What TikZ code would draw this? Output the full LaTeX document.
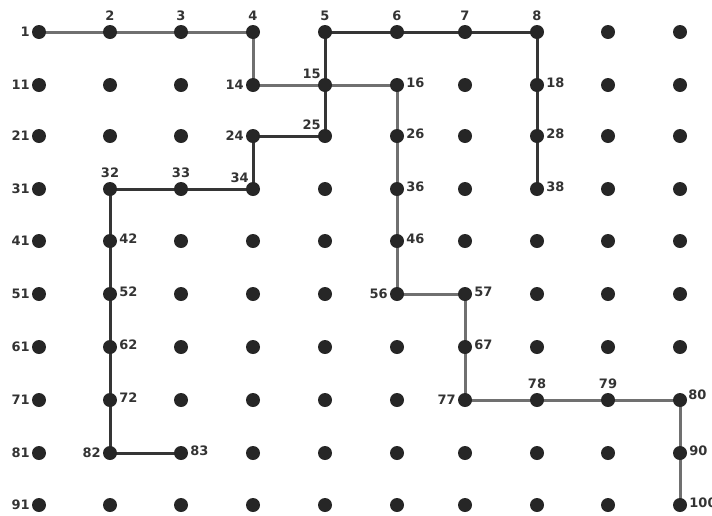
\documentclass[tikz,border=0pt]{standalone}
\usepackage{fontspec}
\setmainfont{DejaVu Sans}
\usetikzlibrary{backgrounds}
\definecolor{dotc}{HTML}{262626}
\definecolor{labc}{HTML}{333333}
\definecolor{grayc}{HTML}{707070}
\definecolor{darkc}{HTML}{353535}
\begin{document}
\begin{tikzpicture}[x=1pt,y=-1pt,
  dot/.style={circle,fill=dotc,inner sep=0pt,minimum size=14pt},
  lab/.style={font=\bfseries\fontsize{13}{13}\selectfont,text=labc,inner sep=1pt},
  gpath/.style={draw=grayc,line width=3pt},
  dpath/.style={draw=darkc,line width=3pt}]
\useasboundingbox (0,0) rectangle (712,515);
\def\xs{{39,110,181,253,325,397,465,537,608,680}}
\def\ys{{32,85,136,189,241,294,347,400,453,505}}
\foreach \r in {0,...,9}{
  \foreach \c in {0,...,9}{
    \pgfmathtruncatemacro\n{10*\r+\c+1}
    \pgfmathsetmacro\px{\xs[\c]}
    \pgfmathsetmacro\py{\ys[\r]}
    \node[dot] (n\n) at (\px,\py) {};
  }
}
% labels
\foreach \n in {1,11,21,31,41,51,61,71,81,91,14,24,56,77,82}
  \node[lab,anchor=east] (l\n) at ([xshift=-1pt]n\n.west) {\n};
\foreach \n in {2,3,4,5,6,7,8,32,33,78,79}
  \node[lab,anchor=south] (l\n) at ([yshift=3pt]n\n.north) {\n};
\foreach \n in {15,25,34}
  \node[lab,anchor=south east] (l\n) at ([xshift=2pt]n\n.north west) {\n};
\foreach \n in {16,18,26,28,36,38,42,46,52,57,62,67,72,83,90,100}
  \node[lab,anchor=west] (l\n) at ([xshift=1pt,yshift=2pt]n\n.east) {\n};
\node[lab,anchor=west] (l80) at ([xshift=0pt,yshift=5pt]n80.east) {80};
\begin{pgfonlayer}{background}
  \draw[gpath] (n1.center) -- (n2.center) -- (n3.center) -- (n4.center) -- (n14.center) -- (n15.center) -- (n16.center) -- (n26.center) -- (n36.center) -- (n46.center) -- (n56.center) -- (n57.center) -- (n67.center) -- (n77.center) -- (n78.center) -- (n79.center) -- (n80.center) -- (n90.center) -- (n100.center);
  \draw[dpath] (n38.center) -- (n28.center) -- (n18.center) -- (n8.center) -- (n7.center) -- (n6.center) -- (n5.center) -- (n15.center) -- (n25.center) -- (n24.center) -- (n34.center) -- (n33.center) -- (n32.center) -- (n42.center) -- (n52.center) -- (n62.center) -- (n72.center) -- (n82.center) -- (n83.center);
\end{pgfonlayer}
\end{tikzpicture}
\end{document}
